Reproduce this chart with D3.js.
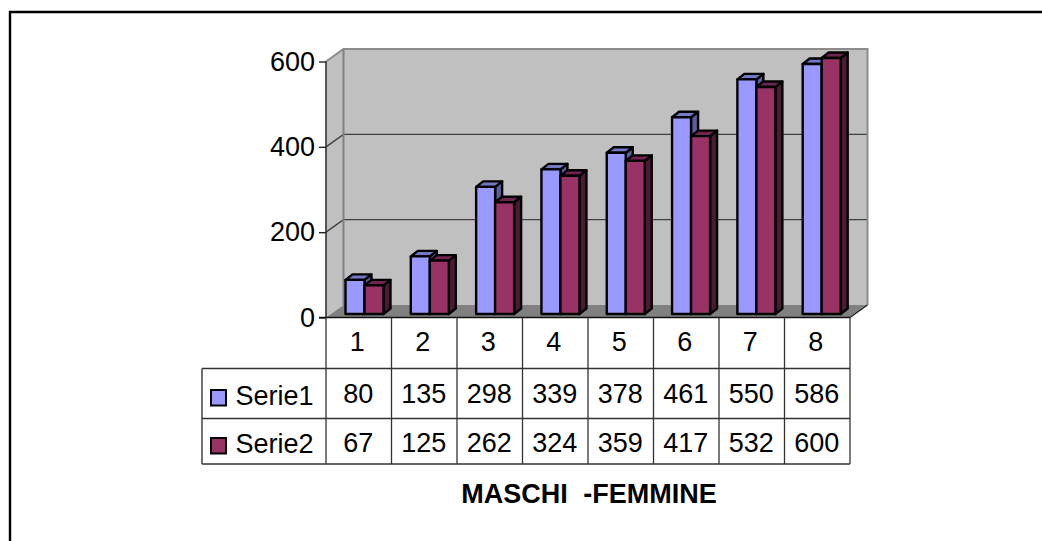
<!DOCTYPE html>
<html>
<head>
<meta charset="utf-8">
<script src="https://cdn.jsdelivr.net/npm/d3@7"></script>
<style>
  body { margin: 0; background: #fff; }
  text { font-family: "Liberation Sans", Arial, sans-serif; fill: #000; }
</style>
</head>
<body>
<div id="chart"></div>
<script>
const categories = ["1", "2", "3", "4", "5", "6", "7", "8"];
const seriesNames = ["Serie1", "Serie2"];
const serie1 = [80, 135, 298, 339, 378, 461, 550, 586];
const serie2 = [67, 125, 262, 324, 359, 417, 532, 600];
const yTicks = [0, 200, 400, 600];
const title = "MASCHI -FEMMINE";

const seriesValues = [serie1, serie2];
const front = ["#9999ff", "#993366"];
const topFace = ["#7478c4", "#6f2550"];
const sideFace = ["#5c5f9c", "#4a1a36"];

const left = 326, right = 850, yZero = 317.5, yMax = 61.5;
const wallDx = 17.5, wallDy = -12.5;   // depth of the floor
const barDx = 7, barDy = -5.5;         // depth of one bar
const barLift = -3.5;                  // bars stand a little back on the floor
const fontSize = 27;

const svg = d3.select("#chart").append("svg")
  .attr("width", 1042).attr("height", 541)
  .style("display", "block");

const x = d3.scaleBand().domain(categories).range([left, right]);
const xBars = d3.scaleBand().domain(categories).range([left, right - 1.5]);
const xs = d3.scaleBand().domain(seriesNames).range([19.5, 57.5]);
const y = d3.scaleLinear().domain([0, 600]).range([yZero, yMax]);

const poly = pts => pts.map(p => p.join(",")).join(" ");

// page frame
svg.append("path").attr("d", "M10,541V12H1042").attr("fill", "none")
  .attr("stroke", "#000").attr("stroke-width", 2.4);

// walls
svg.append("polygon")
  .attr("points", poly([[left, yZero], [left, yMax], [left + wallDx, yMax + wallDy], [left + wallDx, yZero + wallDy]]))
  .attr("fill", "#c0c0c0");
svg.append("polygon")
  .attr("points", poly([[left + wallDx, yMax + wallDy], [right + wallDx, yMax + wallDy], [right + wallDx, yZero + wallDy], [left + wallDx, yZero + wallDy]]))
  .attr("fill", "#c0c0c0");
svg.append("polygon")
  .attr("points", poly([[left, yZero], [left + wallDx, yZero + wallDy], [right + wallDx, yZero + wallDy], [right, yZero]]))
  .attr("fill", "#808080");

// gridlines, back and side wall
yTicks.filter(d => d > 0 && d < 600).forEach(d => {
  svg.append("path")
    .attr("d", `M${left},${y(d)}L${left + wallDx},${y(d) + wallDy}H${right + wallDx}`)
    .attr("fill", "none").attr("stroke", "#404040").attr("stroke-width", 1.4);
});

// wall edges
svg.append("path")
  .attr("d", `M${left},${yMax}L${left + wallDx},${yMax + wallDy}H${right + wallDx}V${yZero + wallDy}`)
  .attr("fill", "none").attr("stroke", "#8c8c8c").attr("stroke-width", 2);
svg.append("path")
  .attr("d", `M${left + wallDx},${yMax + wallDy}V${yZero + wallDy}`)
  .attr("fill", "none").attr("stroke", "#808080").attr("stroke-width", 2);
svg.append("path")
  .attr("d", `M${right},${yZero}L${right + wallDx},${yZero + wallDy}`)
  .attr("fill", "none").attr("stroke", "#222").attr("stroke-width", 1.2);

// bars
categories.forEach((c, i) => {
  seriesNames.forEach((s, k) => {
    const x0 = xBars(c) + xs(s), x1 = x0 + xs.bandwidth();
    const yb = yZero + barLift, yt = y(seriesValues[k][i]) + barLift;
    const g = svg.append("g").attr("stroke", "#000").attr("stroke-width", 2.4).attr("stroke-linejoin", "round");
    g.append("polygon")
      .attr("points", poly([[x1, yb], [x1, yt], [x1 + barDx, yt + barDy], [x1 + barDx, yb + barDy]]))
      .attr("fill", sideFace[k]);
    g.append("polygon")
      .attr("points", poly([[x0, yt], [x0 + barDx, yt + barDy], [x1 + barDx, yt + barDy], [x1, yt]]))
      .attr("fill", topFace[k]);
    g.append("rect")
      .attr("x", x0).attr("y", yt)
      .attr("width", x1 - x0).attr("height", yb - yt)
      .attr("fill", front[k]);
  });
});

// y axis
const yAxis = d3.axisLeft(y).tickValues(yTicks).tickSize(7).tickPadding(4);
const yG = svg.append("g").attr("transform", `translate(${left},0)`).call(yAxis);
yG.selectAll("line").attr("stroke", "#222").attr("stroke-width", 1.4);
yG.select(".domain").attr("stroke", "#333").attr("stroke-width", 1.6).attr("d", `M0,${yMax}V${yZero}`);
yG.selectAll("text").attr("font-size", fontSize).style("font-family", '"Liberation Sans", Arial, sans-serif').attr("fill", "#000");

// data table
const tableLeft = 202, headerBottom = 368.5, rowBottoms = [418.5, 464];
const rowBase = [403.3, 451.5], labelBase = [405, 453.3], swatchTop = [390, 438];

svg.append("path")
  .attr("d", `M${left - 7},${yZero}H${right}`)
  .attr("stroke", "#111").attr("stroke-width", 1.6);

const vLines = x.domain().map(c => x(c)).concat([right]);
svg.selectAll("line.v").data(vLines).enter().append("line")
  .attr("class", "v")
  .attr("x1", d => d).attr("x2", d => d)
  .attr("y1", yZero).attr("y2", rowBottoms[1])
  .attr("stroke", "#333").attr("stroke-width", 1.3);

[headerBottom].concat(rowBottoms).forEach(ty => {
  svg.append("line")
    .attr("x1", tableLeft).attr("x2", right).attr("y1", ty).attr("y2", ty)
    .attr("stroke", "#333").attr("stroke-width", 1.3);
});
svg.append("line")
  .attr("x1", tableLeft).attr("x2", tableLeft)
  .attr("y1", headerBottom).attr("y2", rowBottoms[1])
  .attr("stroke", "#444").attr("stroke-width", 1.5);

svg.selectAll("text.cat").data(categories).enter().append("text")
  .attr("class", "cat")
  .attr("x", d => x(d) + x.bandwidth() / 2 - 1.5)
  .attr("y", 351)
  .attr("text-anchor", "middle").attr("font-size", fontSize)
  .text(d => d);

seriesNames.forEach((s, k) => {
  svg.append("rect")
    .attr("x", 211).attr("y", swatchTop[k])
    .attr("width", 15).attr("height", 15.5)
    .attr("fill", front[k]).attr("stroke", "#000").attr("stroke-width", 2);
  svg.append("text")
    .attr("x", 235.5).attr("y", labelBase[k])
    .attr("font-size", fontSize).text(s);
  svg.selectAll(`text.val${k}`).data(seriesValues[k]).enter().append("text")
    .attr("class", `val${k}`)
    .attr("x", (d, i) => x(categories[i]) + x.bandwidth() / 2 - 0.5)
    .attr("y", rowBase[k])
    .attr("text-anchor", "middle").attr("font-size", fontSize)
    .text(d => d);
});

svg.append("text")
  .attr("x", 589).attr("y", 503.3)
  .attr("text-anchor", "middle")
  .attr("font-size", 27).attr("font-weight", "bold")
  .attr("word-spacing", 8)
  .text(title);
</script>
</body>
</html>
